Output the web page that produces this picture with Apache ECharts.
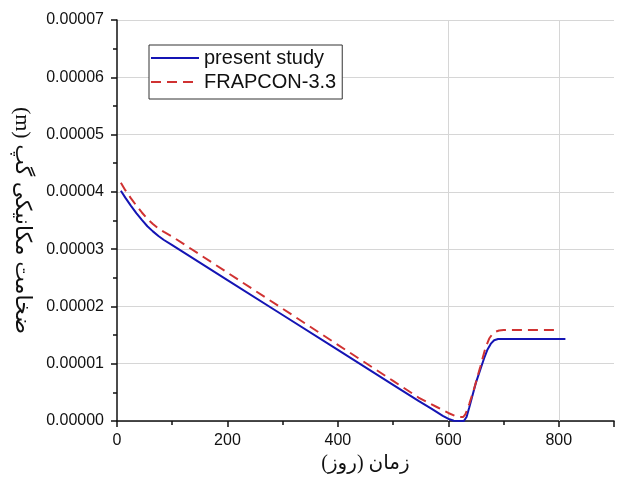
<!DOCTYPE html>
<html>
<head>
<meta charset="utf-8">
<script src="https://cdn.jsdelivr.net/npm/echarts@6/dist/echarts.min.js"></script>
<style>
html,body{margin:0;padding:0;background:#fff;}
#chart{width:617px;height:490px;}
</style>
</head>
<body>
<div id="chart"></div>
<script>
// ---- data ----
const seriesNames = ['present study', 'FRAPCON-3.3'];
const presentDays = [7, 15, 25, 35, 45, 55, 65, 75, 85, 100, 200, 300, 400, 500, 546, 570, 590, 602, 610, 628, 633, 638, 643, 650, 658, 665, 671, 677, 683, 690, 700, 812];
const presentValues = [0.0000402, 0.0000390, 0.0000376, 0.0000363, 0.0000351, 0.0000340, 0.0000331, 0.0000323, 0.0000316, 0.0000307, 0.0000246, 0.0000185, 0.0000124, 0.0000063, 0.0000035, 0.0000021, 0.0000009, 0.0000003, 0.00000005, 0.0, 0.0000007, 0.0000024, 0.0000042, 0.0000067, 0.0000090, 0.0000110, 0.0000125, 0.0000135, 0.0000141, 0.0000143, 0.0000143, 0.0000143];
const frapconDays = [7, 15, 25, 35, 45, 55, 65, 75, 85, 100, 200, 300, 400, 500, 546, 580, 600, 612, 620, 627, 631, 638, 646, 658, 667, 674, 680, 686, 692, 700, 800];
const frapconValues = [0.0000416, 0.0000403, 0.0000389, 0.0000376, 0.0000364, 0.0000353, 0.0000344, 0.0000336, 0.0000330, 0.0000322, 0.0000259, 0.0000196, 0.0000133, 0.0000070, 0.0000041, 0.0000024, 0.0000014, 0.0000009, 0.0000007, 0.0000007, 0.0000012, 0.0000030, 0.0000054, 0.0000095, 0.0000127, 0.0000144, 0.0000152, 0.0000156, 0.0000158, 0.0000159, 0.0000159];
const xGridLines = [600, 800];
const xAxisName = '\u2067زمان (روز)\u2069';
const yAxisName = '\u2067ضخامت مکانیکی گپ (m)\u2069';

const zip = (xs, ys) => xs.map((x, i) => [x, ys[i]]);

const latin = "'Liberation Sans', Arial, sans-serif";
const serif = "'Liberation Serif', 'Times New Roman', 'DejaVu Sans', serif";

const chart = echarts.init(document.getElementById('chart'), null, {renderer: 'canvas'});
chart.setOption({
  animation: false,
  backgroundColor: '#ffffff',
  grid: {left: 117, top: 20, right: 1, bottom: 69, containLabel: false},
  legend: {
    left: 149, top: 45,
    orient: 'vertical',
    data: seriesNames,
    itemWidth: 48, itemHeight: 14, itemGap: 4,
    padding: [3, 6, 7, 1],
    borderColor: '#333', borderWidth: 1,
    backgroundColor: '#ffffff',
    itemStyle: {opacity: 0},
    textStyle: {fontFamily: latin, fontSize: 20, color: '#111'}
  },
  xAxis: {
    type: 'value', min: 0, max: 900, interval: 200,
    name: xAxisName, nameLocation: 'middle', nameGap: 30,
    nameTextStyle: {fontFamily: serif, fontSize: 20, color: '#111'},
    axisLine: {show: true, onZero: false, lineStyle: {color: '#111', width: 1.5}},
    axisTick: {show: true, length: 6, lineStyle: {color: '#111', width: 1.5}},
    minorTick: {show: true, splitNumber: 2, length: 4, lineStyle: {color: '#111', width: 1.5}},
    axisLabel: {fontFamily: latin, fontSize: 16, color: '#111', margin: 12,
      formatter: v => (v % 200 === 0 ? String(v) : '')},
    splitLine: {show: false}
  },
  yAxis: {
    type: 'value', min: 0, max: 0.00007, interval: 0.00001,
    name: yAxisName, nameLocation: 'middle', nameGap: 84, nameRotate: -90,
    nameTextStyle: {fontFamily: serif, fontSize: 22, color: '#111'},
    axisLine: {show: true, onZero: false, lineStyle: {color: '#111', width: 1.5}},
    axisTick: {show: true, length: 6, lineStyle: {color: '#111', width: 1.5}},
    minorTick: {show: true, splitNumber: 2, length: 4, lineStyle: {color: '#111', width: 1.5}},
    axisLabel: {fontFamily: latin, fontSize: 16, color: '#111', margin: 13,
      formatter: v => v.toFixed(5)},
    splitLine: {show: true, lineStyle: {color: '#d6d6d6', width: 1}}
  },
  series: [
    {
      name: seriesNames[0], type: 'line', data: zip(presentDays, presentValues),
      symbol: 'none', smooth: false, z: 3,
      lineStyle: {color: '#1414b4', width: 2},
      itemStyle: {color: '#1414b4'},
      markLine: {
        silent: true, symbol: 'none', label: {show: false}, z: 1,
        lineStyle: {color: '#d6d6d6', width: 1, type: 'solid'},
        data: xGridLines.map(x => ({xAxis: x}))
      }
    },
    {
      name: seriesNames[1], type: 'line', data: zip(frapconDays, frapconValues),
      symbol: 'none', smooth: false, z: 4,
      lineStyle: {color: '#d03232', width: 2, type: [10, 6]},
      itemStyle: {color: '#d03232'}
    }
  ]
});
</script>
</body>
</html>
